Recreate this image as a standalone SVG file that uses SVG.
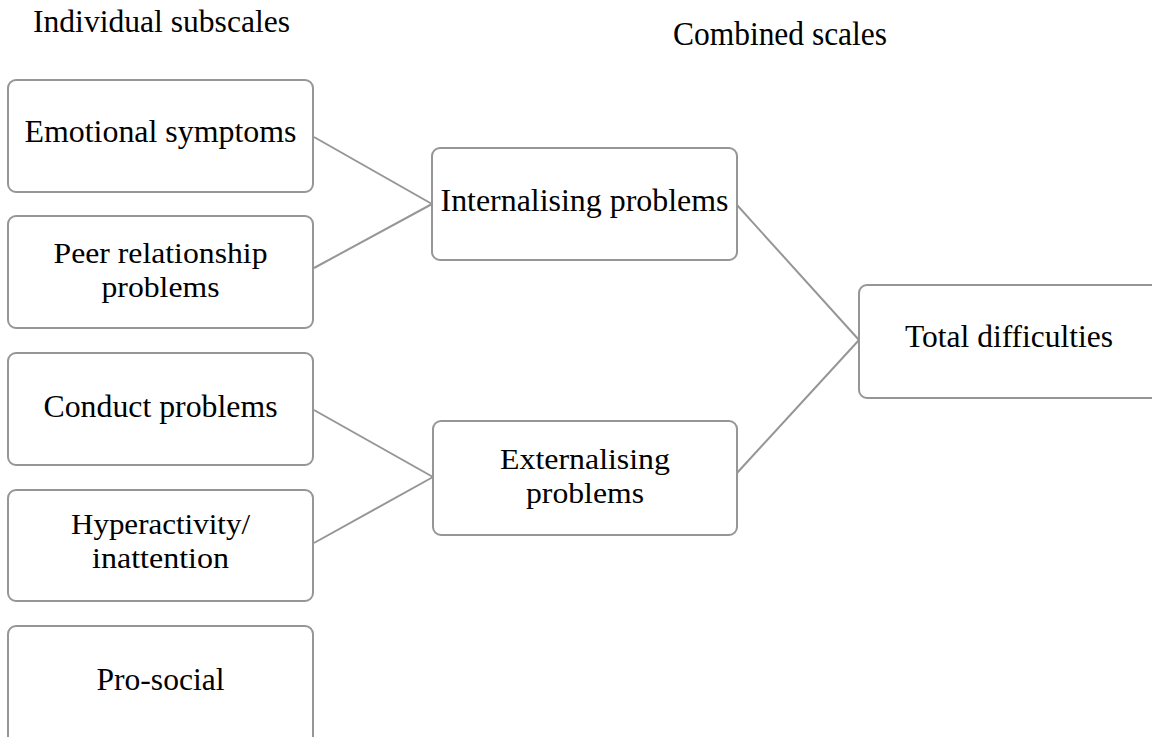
<svg xmlns="http://www.w3.org/2000/svg" width="1152" height="737" viewBox="0 0 1152 737">
<style>
.box{fill:#fff;stroke:#969696;stroke-width:2}
.t{font-family:'Liberation Serif','Times New Roman',serif;font-size:32px;fill:#000;text-anchor:middle}
.t2{font-family:'Liberation Serif','Times New Roman',serif;font-size:30px;fill:#000;text-anchor:middle}
.h{font-family:'Liberation Serif','Times New Roman',serif;font-size:32px;fill:#000}
.c{stroke:#969696;stroke-width:2;fill:none}
</style>
<rect width="1152" height="737" fill="#fff"/>
<text class="h" x="33" y="32" textLength="257" lengthAdjust="spacingAndGlyphs">Individual subscales</text>
<text class="h" x="673" y="45" style="font-size:33px" textLength="214" lengthAdjust="spacingAndGlyphs">Combined scales</text>
<g id="connectors">
<line class="c" x1="314" y1="137" x2="432" y2="204"/>
<line class="c" x1="314" y1="268" x2="432" y2="204"/>
<line class="c" x1="314" y1="410" x2="433" y2="477"/>
<line class="c" x1="314" y1="543" x2="433" y2="477"/>
<line class="c" x1="737" y1="205" x2="859" y2="340"/>
<line class="c" x1="737" y1="473" x2="859" y2="340"/>
</g>
<g id="emotional"><rect class="box" x="8" y="80" width="305" height="112" rx="8"/><text class="t" x="160.5" y="142" textLength="272" lengthAdjust="spacingAndGlyphs">Emotional symptoms</text></g>
<g id="peer"><rect class="box" x="8" y="216" width="305" height="112" rx="8"/><text class="t2" x="160.5" y="263"><tspan x="160.5" y="263" textLength="214" lengthAdjust="spacingAndGlyphs">Peer relationship</tspan><tspan x="160.5" y="297" textLength="118" lengthAdjust="spacingAndGlyphs">problems</tspan></text></g>
<g id="conduct"><rect class="box" x="8" y="353" width="305" height="112" rx="8"/><text class="t" x="160.5" y="417" textLength="234" lengthAdjust="spacingAndGlyphs">Conduct problems</text></g>
<g id="hyper"><rect class="box" x="8" y="490" width="305" height="111" rx="8"/><text class="t2" x="160.5" y="534"><tspan x="160.5" y="534" textLength="179" lengthAdjust="spacingAndGlyphs">Hyperactivity/</tspan><tspan x="160.5" y="568" textLength="137" lengthAdjust="spacingAndGlyphs">inattention</tspan></text></g>
<g id="prosocial"><rect class="box" x="8" y="626" width="305" height="120" rx="8"/><text class="t" x="160.5" y="690" textLength="128" lengthAdjust="spacingAndGlyphs">Pro-social</text></g>
<g id="internalising"><rect class="box" x="432" y="148" width="305" height="112" rx="8"/><text class="t" x="584.5" y="211" textLength="288" lengthAdjust="spacingAndGlyphs">Internalising problems</text></g>
<g id="externalising"><rect class="box" x="433" y="421" width="304" height="114" rx="8"/><text class="t2" x="585" y="469"><tspan x="585" y="469" textLength="170" lengthAdjust="spacingAndGlyphs">Externalising</tspan><tspan x="585" y="503" textLength="118" lengthAdjust="spacingAndGlyphs">problems</tspan></text></g>
<g id="total"><rect class="box" x="859" y="285" width="310" height="113" rx="8"/><text class="t" x="1009" y="347" textLength="208" lengthAdjust="spacingAndGlyphs">Total difficulties</text></g>
</svg>
